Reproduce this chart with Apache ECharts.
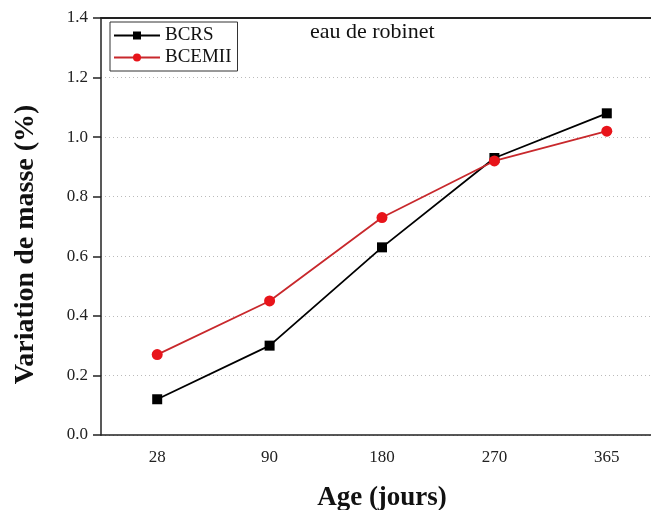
<!DOCTYPE html>
<html>
<head>
<meta charset="utf-8">
<script src="https://cdn.jsdelivr.net/npm/echarts@6/dist/echarts.min.js"></script>
<style>
    html, body { margin: 0; padding: 0; background: #fff; }
    #main { width: 651px; height: 510px; }
</style>
</head>
<body>
<div id="main"></div>
<script>
// 龄期 (jours)
var ages = ['28', '90', '180', '270', '365'];
// variation de masse (%)
var bcrs = [0.12, 0.30, 0.63, 0.93, 1.08];
var bcemii = [0.27, 0.45, 0.73, 0.92, 1.02];
var yTicks = [0, 0.2, 0.4, 0.6, 0.8, 1.0, 1.2, 1.4];

var serif = '"Liberation Serif", "DejaVu Serif", serif';

var chart = echarts.init(document.getElementById('main'));

var option = {
    animation: false,
    backgroundColor: '#fff',
    textStyle: { fontFamily: serif },
    grid: {
        left: 101,
        top: 18,
        right: -12,
        bottom: 75,
        outerBoundsMode: 'none'
    },
    legend: {
        left: 110,
        top: 22,
        orient: 'vertical',
        itemGap: 3,
        itemWidth: 46,
        itemHeight: 10,
        padding: [4, 6, 4, 3],
        borderColor: '#333',
        borderWidth: 1,
        textStyle: { fontFamily: serif, fontSize: 19, color: '#111' },
        data: ['BCRS', 'BCEMII']
    },
    graphic: [{
        type: 'text',
        left: 310,
        top: 21,
        style: { text: 'eau de robinet', font: '22px ' + serif, fill: '#111' }
    }],
    xAxis: [{
        type: 'category',
        data: ages,
        boundaryGap: true,
        name: 'Age (jours)',
        nameLocation: 'middle',
        nameGap: 50,
        nameTextStyle: { fontFamily: serif, fontSize: 27, fontWeight: 'bold', color: '#111' },
        axisLine: { lineStyle: { color: '#222', width: 1.5 } },
        axisTick: { alignWithLabel: true, length: 7, lineStyle: { color: '#222', width: 1.5 } },
        axisLabel: { fontFamily: serif, fontSize: 17, color: '#222', margin: 14 },
        splitLine: { show: false }
    }, {
        // 上边框
        type: 'category',
        data: ages,
        position: 'top',
        axisLine: { lineStyle: { color: '#222', width: 2 } },
        axisTick: { show: false },
        axisLabel: { show: false },
        splitLine: { show: false }
    }],
    yAxis: {
        type: 'value',
        min: yTicks[0],
        max: yTicks[yTicks.length - 1],
        interval: 0.2,
        name: 'Variation de masse (%)',
        nameLocation: 'middle',
        nameGap: 61,
        nameTextStyle: { fontFamily: serif, fontSize: 28, fontWeight: 'bold', color: '#111', padding: [0, 36, 0, 0] },
        axisLine: { show: true, lineStyle: { color: '#222', width: 1.5 } },
        axisTick: { show: true, length: 8, lineStyle: { color: '#222', width: 1.5 } },
        axisLabel: {
            fontFamily: serif, fontSize: 17, color: '#222', margin: 13,
            formatter: function(v) { return v.toFixed(1); }
        },
        splitLine: { show: true, lineStyle: { color: '#bbb', type: [1, 3], width: 1 } }
    },
    series: [
        {
            name: 'BCRS',
            type: 'line',
            data: bcrs,
            symbol: 'rect',
            symbolSize: 10,
            color: '#000',
            lineStyle: { color: '#000', width: 1.8 },
            itemStyle: { color: '#000' }
        },
        {
            name: 'BCEMII',
            type: 'line',
            data: bcemii,
            symbol: 'circle',
            symbolSize: 11,
            color: '#e8141a',
            lineStyle: { color: '#c8282c', width: 1.8 },
            itemStyle: { color: '#e8141a' }
        }
    ]
};

chart.setOption(option);
</script>
</body>
</html>
